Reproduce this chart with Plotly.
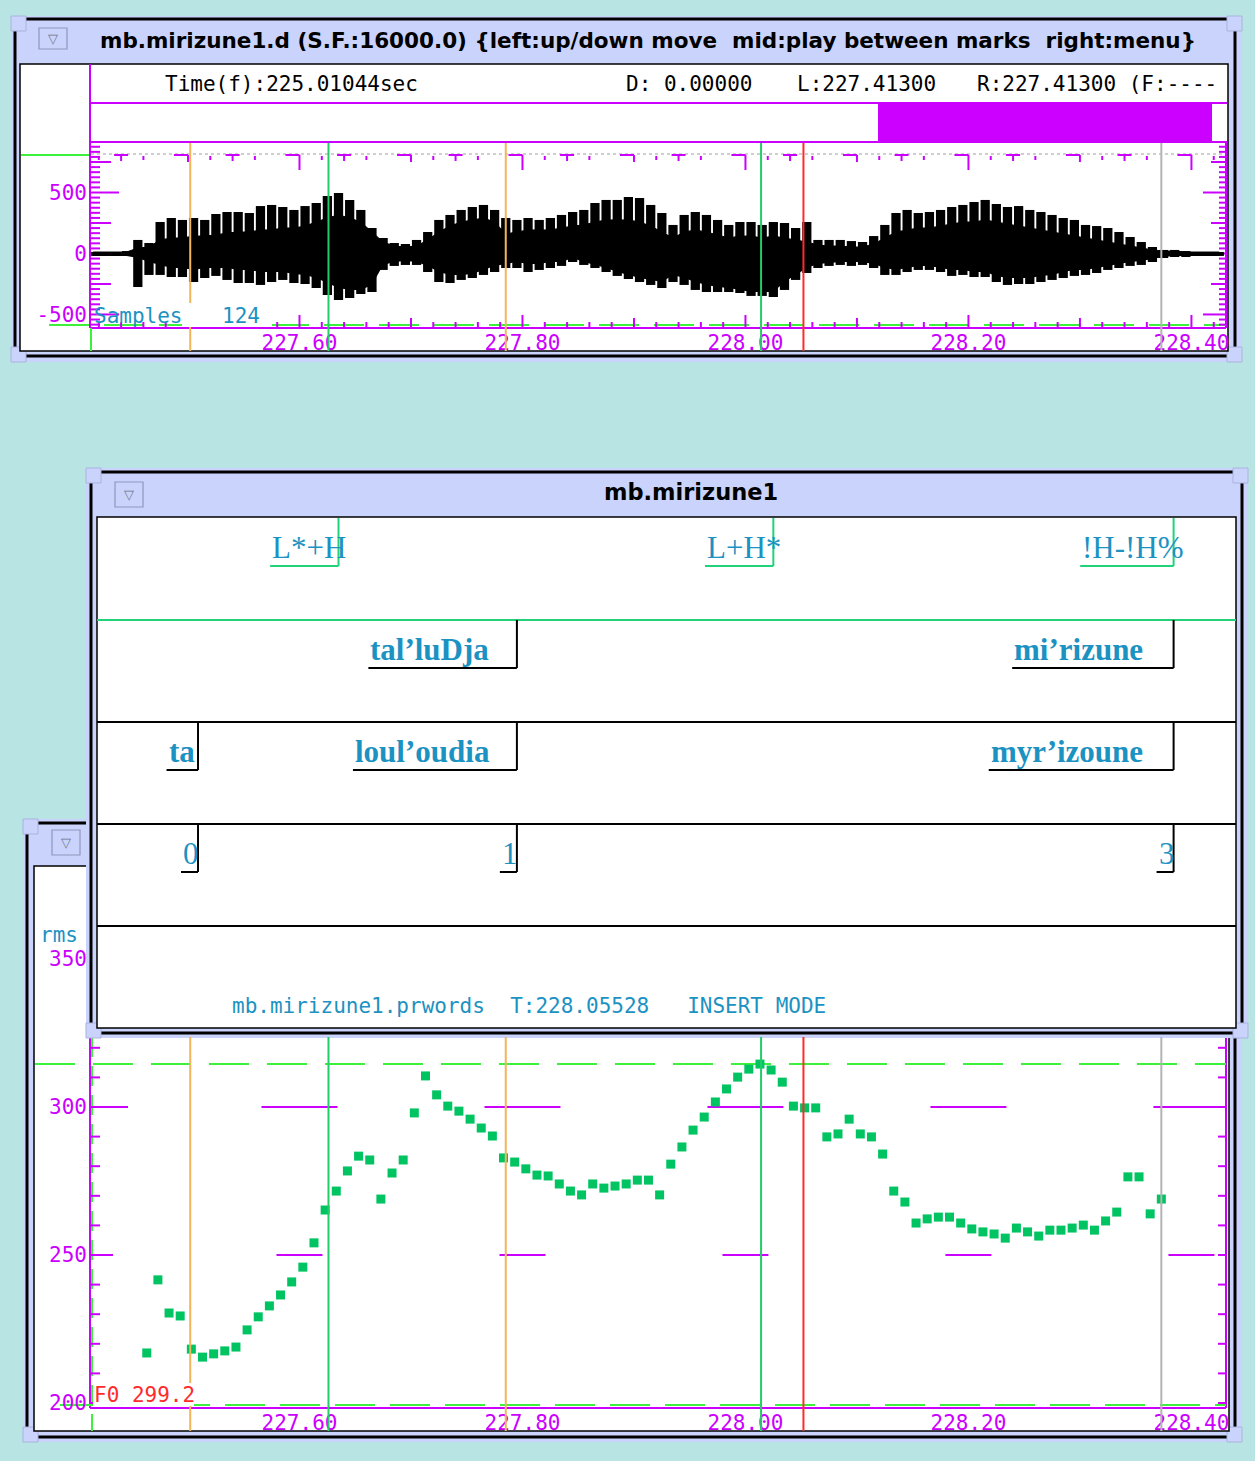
import numpy as np
import plotly.graph_objects as go

W, H = 1255, 1461

# ---------------- signal data ----------------
view_start, view_end = 227.413, 228.431          # seconds shown in both panels

# waveform envelope, one column every 10 ms (sample units)
wave_start = 227.415
wave_step = 0.01
wave_peak_hi = [12, 12, 12, 20, 111, 86, 258, 291, 275, 291,
                275, 324, 340, 340, 332, 389, 398, 381, 357, 389,
                414, 471, 496, 439, 357, 209, 127, 86, 78, 111,
                176, 275, 316, 357, 381, 398, 357, 291, 275, 291,
                275, 291, 316, 340, 357, 414, 439, 439, 463, 455,
                398, 332, 234, 316, 340, 316, 275, 234, 258, 258,
                234, 258, 250, 209, 258, 111, 111, 111, 102, 94,
                143, 234, 332, 357, 332, 340, 357, 381, 398, 422,
                439, 406, 381, 389, 357, 340, 316, 291, 275, 234,
                225, 209, 176, 135, 94, 53, 29, 29, 20, 12,
                12, 12]
wave_peak_lo = [-20, -20, -20, -20, -275, -176, -176, -193, -193, -234,
                -201, -184, -217, -242, -242, -258, -234, -217, -242, -250,
                -283, -340, -381, -365, -332, -316, -135, -102, -94, -94,
                -152, -234, -242, -217, -201, -176, -152, -119, -119, -152,
                -135, -119, -102, -70, -94, -119, -152, -184, -209, -234,
                -258, -283, -234, -258, -299, -316, -316, -316, -324, -348,
                -348, -357, -299, -217, -160, -119, -102, -94, -102, -94,
                -119, -176, -176, -152, -135, -135, -152, -184, -176, -193,
                -193, -234, -258, -250, -250, -234, -217, -201, -184, -176,
                -160, -135, -119, -102, -94, -70, -37, -29, -29, -20,
                -20, -20]
wave_body_hi = [12, 12, 12, 12, 45, 53, 111, 127, 127, 143,
                143, 152, 168, 176, 176, 193, 193, 209, 209, 225,
                258, 291, 316, 291, 258, 176, 94, 61, 53, 61,
                111, 176, 225, 258, 275, 291, 258, 160, 176, 193,
                193, 193, 209, 225, 234, 258, 275, 275, 275, 258,
                225, 176, 127, 176, 193, 176, 152, 127, 143, 143,
                127, 143, 127, 111, 94, 70, 61, 61, 53, 53,
                78, 127, 176, 193, 209, 209, 225, 242, 258, 258,
                275, 258, 242, 225, 209, 193, 176, 160, 143, 127,
                111, 94, 78, 61, 45, 29, 20, 20, 12, 12,
                12, 12]
wave_body_lo = [-20, -20, -20, -20, -37, -70, -94, -119, -119, -135,
                -119, -119, -119, -135, -135, -152, -152, -152, -168, -176,
                -201, -242, -283, -299, -299, -258, -94, -70, -61, -70,
                -102, -152, -176, -176, -168, -135, -102, -86, -70, -86,
                -86, -70, -70, -37, -70, -94, -119, -152, -176, -201,
                -217, -234, -176, -201, -234, -258, -275, -283, -299, -316,
                -316, -316, -234, -176, -119, -86, -78, -70, -70, -70,
                -86, -119, -135, -119, -102, -102, -119, -135, -135, -152,
                -152, -184, -201, -201, -201, -184, -176, -152, -135, -135,
                -119, -102, -86, -70, -61, -45, -29, -20, -20, -20,
                -20, -20]

# pitch track, 100 frames per second (Hz)
f0_start = 227.463
f0_step = 0.01
f0_hz = [216.9, 241.6, 230.4, 229.4, 218.2, 215.5, 216.6, 217.6, 218.9, 224.7,
         229.1, 232.8, 236.5, 240.9, 245.9, 254.1, 265.2, 271.6, 278.4, 283.4,
         282.1, 268.9, 277.7, 282.1, 298.0, 310.5, 304.1, 300.3, 298.6, 295.9,
         292.9, 290.2, 282.8, 281.4, 279.1, 277.0, 276.7, 274.0, 271.6, 270.3,
         274.0, 272.6, 273.3, 274.0, 275.3, 275.3, 270.3, 280.7, 286.5, 292.2,
         296.6, 301.7, 306.1, 310.1, 312.8, 314.5, 312.5, 308.4, 300.3, 299.7,
         299.7, 289.9, 290.9, 295.9, 290.9, 289.9, 284.1, 271.6, 267.9, 260.8,
         262.2, 262.8, 262.8, 260.8, 258.8, 257.8, 257.1, 255.7, 259.1, 257.8,
         256.4, 258.4, 258.4, 259.1, 260.1, 258.4, 261.5, 264.5, 276.4, 276.4,
         263.9, 268.9]

# time marks shown in both signal views, and the horizontal F0 cursor
cursor_times = [227.502, 227.626, 227.785, 228.014, 228.052, 228.373]
f0_cursor_hz = 314.5

# label tiers
tone_labels = ["L*+H", "L+H*", "!H-!H%"]
tone_times = [227.635, 228.025, 228.384]
word_labels = ["tal’luDja", "mi’rizune"]
word_times = [227.795, 228.384]
orth_labels = ["ta", "loul’oudia", "myr’izoune"]
orth_times = [227.509, 227.795, 228.384]
break_labels = ["0", "1", "3"]
break_times = [227.509, 227.795, 228.384]

time_tick_vals = [227.6, 227.8, 228.0, 228.2, 228.4]
time_tick_text = ["227.60", "227.80", "228.00", "228.20", "228.40"]
wave_tick_vals = [-500, 0, 500]
f0_tick_vals = [200, 250, 300, 350]

# ---------------- styling ----------------
BG = "#b9e4e4"
LAV = "#c9d3fb"
MAG = "#cc00ff"
LIME = "#3cf03c"
PT_GREEN = "#00c462"
TEAL = "#1c92c2"
ORANGE = "#f2b55a"
CGREEN = "#22cc66"
RED = "#ff2b2b"
GREY = "#b4b4b4"
cursor_colors = [ORANGE, CGREEN, ORANGE, CGREEN, RED, GREY]
MONO = "DejaVu Sans Mono"
SANS = "DejaVu Sans"
SERIF = "Liberation Serif"

shapes, annots = [], []


def px(x):
    return x / W


def py(y):
    return 1 - y / H


def rect(x0, y0, x1, y1, fill=None, line=None, lw=0, layer="below"):
    shapes.append(dict(type="rect", xref="paper", yref="paper",
                       x0=px(x0), x1=px(x1), y0=py(y1), y1=py(y0),
                       fillcolor=fill or "rgba(0,0,0,0)",
                       line=dict(color=line or "rgba(0,0,0,0)", width=lw),
                       layer=layer))


def seg(x0, y0, x1, y1, color, lw=2, dash=None, layer="below"):
    shapes.append(dict(type="line", xref="paper", yref="paper",
                       x0=px(x0), x1=px(x1), y0=py(y0), y1=py(y1),
                       line=dict(color=color, width=lw, dash=dash), layer=layer))


def vt(t, y0, y1, color, lw=2, ax="x", dash=None, layer="below"):
    shapes.append(dict(type="line", xref=ax, yref="paper", x0=t, x1=t,
                       y0=py(y0), y1=py(y1),
                       line=dict(color=color, width=lw, dash=dash), layer=layer))


def ht(t, y, dx0, dx1, color, lw=2, ax="x", yref="paper"):
    yy = py(y) if yref == "paper" else y
    shapes.append(dict(type="line", xref=ax, yref=yref, xsizemode="pixel",
                       xanchor=t, x0=dx0, x1=dx1, y0=yy, y1=yy,
                       line=dict(color=color, width=lw), layer="below"))


def hv(v, x0, x1, color, lw=2, ax="y", dash=None):
    shapes.append(dict(type="line", xref="paper", yref=ax, x0=px(x0), x1=px(x1),
                       y0=v, y1=v, line=dict(color=color, width=lw, dash=dash),
                       layer="below"))


def text(x, y, s, size=21, color="black", family=MONO, xanchor="left",
         yanchor="middle"):
    annots.append(dict(x=px(x), y=py(y), xref="paper", yref="paper", text=s,
                       showarrow=False, xanchor=xanchor, yanchor=yanchor,
                       font=dict(family=family, size=size, color=color)))


def window(frame, outline, panel):
    x0, y0, x1, y1 = frame
    rect(x0, y0, x1, y1, fill=LAV)
    ox0, oy0, ox1, oy1 = outline
    rect(ox0, oy0, ox1, oy1, line="black", lw=3)
    for cx, cy in [(x0, y0), (x1 - 15, y0), (x0, y1 - 15), (x1 - 15, y1 - 15)]:
        rect(cx, cy, cx + 15, cy + 15, fill=LAV, line="#a9b3de", lw=1)
    rect(*panel, fill="white", line="black", lw=1.5)


def button(x0, y0, x1, y1):
    rect(x0, y0, x1, y1, fill=LAV, line="#8f97bd", lw=1.2)
    text((x0 + x1) / 2, (y0 + y1) / 2, "▽", size=13, color="#6f7590",
         family=SANS, xanchor="center")


# ---------------- waveform window ----------------
window((11, 16, 1242, 362), (15, 19, 1235, 356), (20, 64, 1228, 351))
button(39, 28, 67, 49)
text(98, 40, "<b>mb.mirizune1.d (S.F.:16000.0) {left:up/down move\u00a0 "
             "mid:play between marks\u00a0 right:menu}</b>", size=21.5, family=SANS)

seg(90, 64, 90, 143, MAG)
seg(90, 103, 1227, 103, MAG)
seg(90, 142, 1227, 142, MAG)
rect(878, 104, 1212, 141, fill=MAG)
text(163, 84, "Time(f):225.01044sec")
text(624, 84, "D: 0.00000")
text(795, 84, "L:227.41300")
text(975, 84, "R:227.41300 (F:----")

seg(21, 155, 91, 155, LIME)
seg(91, 154, 1226, 154, "#cfcfcf", lw=2, dash="dot")
seg(90, 143, 90, 328, MAG)
seg(1226, 143, 1226, 328, MAG)
seg(49, 325, 1226, 325, LIME, dash="40px,15px")
seg(90, 328, 1226, 328, MAG)
seg(91, 328, 91, 351, LIME)

# amplitude ticks on both edges
for k in range(-14, 22):
    v = k * 250 / 6
    if k % 12 == 0:
        ll, lr = 29, 23
    elif k % 6 == 0:
        ll, lr = 21, 15
    else:
        ll, lr = 10, 7
    hv(v, 90, 90 + ll, MAG)
    hv(v, 1226 - lr, 1226, MAG)

tick_times = np.round(np.arange(227.42, 228.4301, 0.02), 2)
for t in tick_times:
    hund = int(round(t * 100)) % 10
    even = int(round(t * 10)) % 2 == 0
    # top edge of the waveform panel
    if hund == 0:
        ht(t, 155, -14, 0, MAG)
        vt(t, 155, 170 if even else 162, MAG)
    elif hund == 4:
        ht(t, 155, -7, 7, MAG)
        vt(t, 155, 161, MAG)
    elif hund in (2, 6):
        vt(t, 156, 160, MAG)
    # bottom edge of the waveform panel
    hb = (12 if even else 9) if hund == 0 else 5
    vt(t, 327 - hb, 327, MAG)
    # bottom edge of the pitch panel
    hf = (31 if even else 15) if hund == 0 else 8
    vt(t, 1407 - hf, 1407, MAG, ax="x2")

text(92, 316, "Samples", color=TEAL)

# ---------------- pitch window ----------------
window((23, 819, 1242, 1442), (27, 823, 1235, 1437), (34, 866, 1229, 1431))
button(52, 830, 80, 855)
text(38, 935, "rms", color=TEAL)

seg(90, 1037, 90, 1408, MAG)
seg(1226, 1037, 1226, 1408, MAG)
seg(90, 1408, 1226, 1408, MAG)
seg(92, 1037, 92, 1431, LIME, dash="20px,9px")
seg(60, 1405, 1226, 1405, LIME, dash="40px,15px")
hv(f0_cursor_hz, 35, 1226, LIME, ax="y2", dash="40px,18px")

for v in range(200, 330, 10):
    hv(v, 90, 100, MAG, ax="y2")
    hv(v, 1218, 1226, MAG, ax="y2")
for v in (250, 300):
    half = 38 if v % 100 == 0 else 23
    hv(v, 90, 90 + half, MAG, ax="y2")
    for tc in time_tick_vals:
        ht(tc, v, -half, half, MAG, ax="x2", yref="y2")

text(92, 1395, "F0 299.2", color=RED)

# ---------------- label window ----------------
window((86, 468, 1248, 1038), (91, 472, 1242, 1033), (97, 517, 1236, 1028))
button(115, 482, 143, 507)
text(691, 492, "<b>mb.mirizune1</b>", size=22.5, family=SANS, xanchor="center")

seg(97, 620, 1236, 620, "#22d27a", lw=2)
for yy in (722, 824, 926):
    seg(97, yy, 1236, yy, "black", lw=2)

# approximate advance widths (em) of the serif face
char_em = {"L": .611, "*": .5, "+": .564, "H": .722, "!": .333, "-": .333,
           "%": .833, "t": .333, "a": .5, "l": .278, "’": .333, "u": .556,
           "D": .722, "j": .333, "m": .833, "i": .278, "r": .444, "z": .444,
           "n": .556, "e": .444, "o": .5, "d": .556, "y": .5}

tiers = [
    (tone_labels, tone_times, 518, "#22d27a", False, 0.92),
    (word_labels, word_times, 620, "black", True, 1.25),
    (orth_labels, orth_times, 722, "black", True, 1.22),
    (break_labels, break_times, 824, "black", False, 1.1),
]
SERIF_SIZE = 31
for labels, times, top, mark_col, bold, span in tiers:
    under = top + 48
    for lab, t in zip(labels, times):
        w = sum(char_em.get(c, .5) for c in lab) * SERIF_SIZE * span
        vt(t, top, under, mark_col)
        ht(t, under, -w, 0, mark_col)
        annots.append(dict(x=t, xref="x", y=py(under + 1), yref="paper",
                           text=f"<b>{lab}</b>" if bold else lab,
                           showarrow=False, xanchor="left", yanchor="bottom",
                           xshift=-w,
                           font=dict(family=SERIF, size=SERIF_SIZE, color=TEAL)))

text(230, 1006, "mb.mirizune1.prwords\u00a0 T:228.05528\u00a0\u00a0 INSERT MODE",
     color=TEAL)

# ---------------- cursors (drawn over the traces) ----------------
for t, c in zip(cursor_times, cursor_colors):
    vt(t, 143, 351, c, lw=2, layer="above")
    vt(t, 1037, 1431, c, lw=2, ax="x2", layer="above")
rect(182, 303, 272, 327, fill="white", layer="above")
rect(93, 1383, 194, 1406, fill="white", layer="above")
text(220, 316, "124", color=TEAL)

# ---------------- traces ----------------
wave_times = [round(wave_start + i * wave_step, 4) for i in range(len(wave_peak_hi))]
f0_times = [round(f0_start + i * f0_step, 4) for i in range(len(f0_hz))]

fig = go.Figure()
fig.add_trace(go.Scatter(x=wave_times, y=wave_body_lo, mode="lines",
                         line=dict(width=0, color="black"),
                         xaxis="x", yaxis="y", hoverinfo="skip"))
fig.add_trace(go.Scatter(x=wave_times, y=wave_body_hi, mode="lines",
                         fill="tonexty", fillcolor="black",
                         line=dict(width=1, color="black"),
                         xaxis="x", yaxis="y", hoverinfo="skip"))
fig.add_trace(go.Bar(x=wave_times,
                     y=[hi - lo for hi, lo in zip(wave_peak_hi, wave_peak_lo)],
                     base=wave_peak_lo, width=0.0083,
                     marker=dict(color="black", line=dict(width=0)),
                     xaxis="x", yaxis="y", hoverinfo="skip"))
fig.add_trace(go.Scatter(x=f0_times, y=f0_hz, mode="markers",
                         marker=dict(symbol="square", size=9, color=PT_GREEN,
                                     line=dict(width=0)),
                         xaxis="x2", yaxis="y2", hoverinfo="skip"))

tick_font = dict(family=MONO, size=21, color=MAG)
x_common = dict(range=[view_start, view_end], domain=[px(91), px(1226)],
                showgrid=False, zeroline=False, showline=False, ticks="",
                tickmode="array", tickvals=time_tick_vals, ticktext=time_tick_text,
                tickfont=tick_font, ticklabelstandoff=0, automargin=False,
                fixedrange=True)
y_common = dict(showgrid=False, zeroline=False, showline=False, ticks="",
                tickmode="array", tickfont=tick_font, ticklabelstandoff=3,
                automargin=False, fixedrange=True)

fig.update_layout(
    width=W, height=H, margin=dict(l=0, r=0, t=0, b=0),
    paper_bgcolor=BG, plot_bgcolor="rgba(0,0,0,0)", showlegend=False,
    xaxis=dict(anchor="y", **x_common),
    xaxis2=dict(anchor="y2", **x_common),
    yaxis=dict(anchor="x", domain=[py(328), py(143)], range=[-611, 906],
               tickvals=wave_tick_vals, ticktext=[str(v) for v in wave_tick_vals],
               **y_common),
    yaxis2=dict(anchor="x2", domain=[py(1408), py(880)], range=[198.31, 376.69],
                tickvals=f0_tick_vals, ticktext=[str(v) for v in f0_tick_vals],
                **y_common),
    shapes=shapes, annotations=annots,
)

fig.write_html("out.html")
